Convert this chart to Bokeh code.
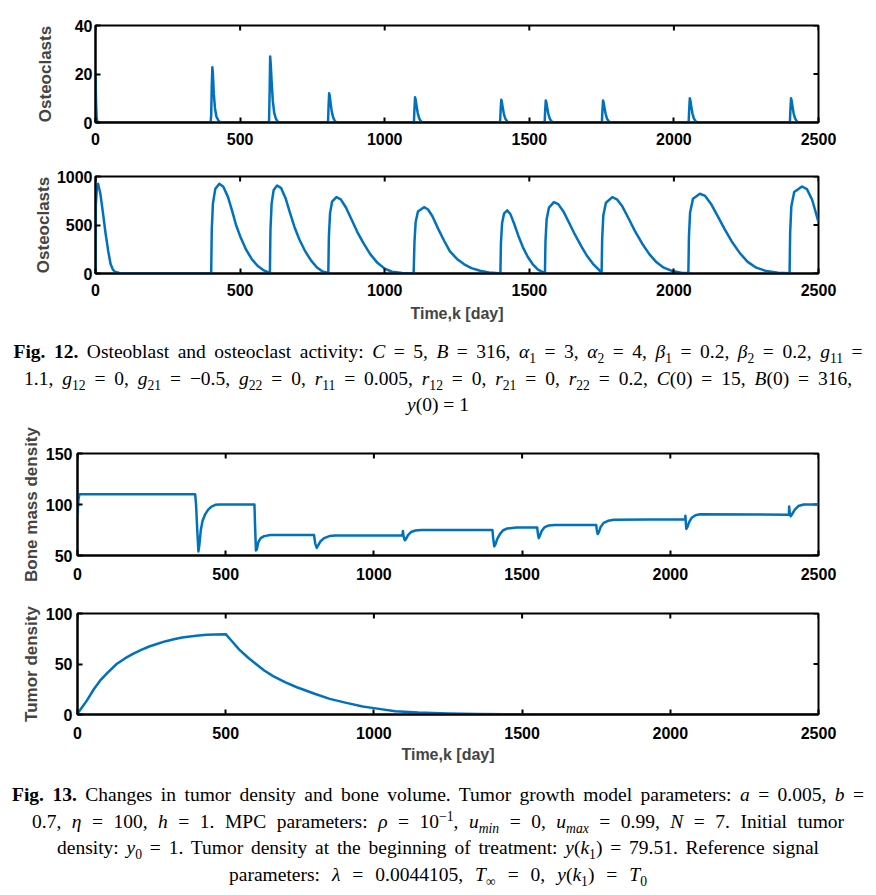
import math
from bokeh.plotting import figure
from bokeh.models import Range1d, FixedTicker, Div
from bokeh.layouts import column
from bokeh.embed import file_html
from bokeh.resources import INLINE

# ---------------- data ----------------
x_ticks = [0, 500, 1000, 1500, 2000, 2500]

# Fig.12 top: osteoclast spikes (0..40)
spike_days = [0, 2, 4, 8,
              398, 400, 402, 404, 406, 409, 413, 418, 425, 432,
              600, 602, 604, 606, 609, 613, 618, 624, 632,
              804, 806, 808, 810, 813, 817, 822, 828, 835,
              1101, 1103, 1105, 1107, 1110, 1114, 1119, 1125, 1132,
              1399, 1401, 1403, 1405, 1408, 1412, 1417, 1423, 1430,
              1553, 1555, 1557, 1559, 1562, 1566, 1571, 1577, 1584,
              1751, 1753, 1755, 1757, 1760, 1764, 1769, 1775, 1782,
              2051, 2053, 2055, 2057, 2060, 2064, 2069, 2075, 2082,
              2401, 2403, 2405, 2407, 2410, 2414, 2419, 2425, 2432,
              2500]
spike_vals = [19, 8, 1.5, 0,
              0, 3, 15, 22.8, 20, 12, 6, 2.5, 0.8, 0,
              0, 12, 27.2, 24, 17, 9, 4, 1.5, 0,
              0, 7, 12.1, 11, 8, 4.5, 2, 0.5, 0,
              0, 6, 10.4, 9.5, 7, 4, 1.8, 0.5, 0,
              0, 5.5, 9.4, 8.6, 6.3, 3.6, 1.6, 0.5, 0,
              0, 5.3, 9.1, 8.3, 6.1, 3.5, 1.5, 0.4, 0,
              0, 5.3, 9.1, 8.3, 6.1, 3.5, 1.5, 0.4, 0,
              0, 5.8, 10, 9.1, 6.7, 3.8, 1.7, 0.5, 0,
              0, 5.8, 10, 9.1, 6.7, 3.8, 1.7, 0.5, 0,
              0]
spike_yticks = [0, 20, 40]

# Fig.12 bottom: osteoclast pulses (0..1000)
osteo_days = [0, 1, 5, 9, 17, 26, 35, 44, 52, 60, 69, 85, 100,
              400, 402, 406, 414, 428, 442, 458, 472, 486, 502, 520, 540, 560, 580, 600,
              603, 605, 609, 616, 628, 642, 658, 672, 688, 705, 725, 745, 765, 785, 805,
              807, 811, 818, 833, 848, 866, 885, 905, 925, 950, 975, 1000, 1025, 1060, 1100,
              1103, 1107, 1115, 1136, 1150, 1165, 1185, 1205, 1225, 1250, 1275, 1300, 1330, 1360, 1395,
              1400, 1402, 1406, 1413, 1424, 1435, 1448, 1462, 1478, 1495, 1512, 1530, 1550,
              1554, 1556, 1560, 1568, 1585, 1600, 1618, 1638, 1658, 1680, 1700, 1720, 1740, 1750,
              1752, 1756, 1765, 1787, 1803, 1822, 1843, 1865, 1890, 1915, 1940, 1965, 1995, 2025, 2050,
              2052, 2056, 2066, 2090, 2108, 2128, 2150, 2175, 2200, 2228, 2255, 2285, 2320, 2360, 2400,
              2402, 2406, 2416, 2443, 2460, 2478, 2500]
osteo_vals = [0, 700, 900, 925, 820, 620, 410, 230, 100, 40, 15, 3, 0,
              0, 450, 720, 870, 925, 895, 790, 650, 500, 370, 250, 150, 80, 35, 10,
              0, 450, 720, 860, 907, 880, 770, 630, 480, 350, 230, 135, 65, 20, 5,
              380, 620, 740, 787, 765, 680, 560, 430, 320, 200, 110, 50, 18, 5, 0,
              330, 530, 640, 684, 660, 590, 460, 340, 230, 150, 95, 55, 28, 10, 2,
              0, 320, 520, 620, 650, 610, 510, 390, 270, 170, 95, 40, 10,
              0, 340, 560, 680, 735, 715, 640, 520, 400, 280, 180, 100, 40, 5,
              360, 600, 730, 787, 765, 690, 570, 440, 310, 200, 115, 60, 25, 8, 2,
              380, 630, 770, 822, 800, 720, 600, 460, 330, 210, 120, 60, 25, 8, 2,
              420, 690, 840, 897, 870, 760, 530]
osteo_yticks = [0, 500, 1000]

# Fig.13 top: bone mass density (50..150)
bone_days = [0, 3, 6, 397, 400, 404, 408, 411, 416, 422, 430, 441, 452, 465, 480, 597,
             599, 602, 605, 610, 618, 630, 650, 798, 802, 807, 812, 820, 832, 850, 870,
             1096, 1098, 1100, 1104, 1108, 1115, 1125, 1140, 1160, 1400, 1402, 1406, 1410,
             1416, 1425, 1435, 1450, 1480, 1551, 1553, 1556, 1560, 1566, 1575, 1590, 1610,
             1750, 1752, 1755, 1759, 1765, 1775, 1790, 1810, 2050, 2051, 2052, 2054, 2058,
             2064, 2072, 2085, 2100, 2400, 2401, 2403, 2406, 2412, 2420, 2432, 2450, 2500]
bone_vals = [90, 104, 110, 110, 100, 75, 54, 60, 75, 84, 90, 95, 98, 99.7, 100, 100,
             80, 55, 56, 63, 67, 69, 70, 70, 62, 57.5, 60, 64, 67, 69, 69.5,
             69.5, 74, 69, 65, 66, 70, 73, 74.5, 75, 75, 68, 59, 61,
             66, 71, 74.5, 76.5, 77.5, 77.5, 72, 67, 69.5, 74, 77.5, 79.5, 80,
             80, 75, 71, 73, 78, 82, 84, 85, 85.5, 89, 84, 76, 78,
             83, 87, 89.5, 90.5, 90, 98, 92, 88.5, 91, 95, 98.5, 100, 100]
bone_yticks = [50, 100, 150]

# Fig.13 bottom: tumor density (0..100)
tumor_days = [0, 10, 32, 55, 76, 100, 132, 160, 187, 215, 242, 270, 298, 325, 353, 380,
              408, 436, 464, 500, 519, 545, 574, 600, 630, 660, 700, 740, 800, 851, 900,
              962, 1000, 1072, 1150, 1250, 1350, 1450, 1600, 1800, 2000, 2500]
tumor_vals = [1, 5, 14, 25, 33.5, 41, 50, 55.5, 60, 64, 67.3, 70, 72.6, 74.5, 76.2, 77.3,
              78.3, 78.9, 79.3, 79.5, 73.3, 64.5, 56.7, 50.5, 43.6, 38, 32, 27, 20.5, 15.5, 12,
              7.9, 6.3, 3.3, 1.9, 1.0, 0.5, 0.25, 0.1, 0.03, 0, 0]
tumor_yticks = [0, 50, 100]

# ---------------- styling helpers ----------------
BLUE = "#0072BD"
TICK_FONT = "Liberation Sans"


def make_fig(fw, fh, top, bottom, y0, y1, yticks, ylabel, ylab_standoff,
             xlab_standoff, ytick_standoff, xlabel=None, xtitle_standoff=3):
    p = figure(frame_width=fw, frame_height=fh,
               x_range=Range1d(0, 2500), y_range=Range1d(y0, y1),
               output_backend="svg", toolbar_location=None,
               min_border_left=95, min_border_right=40,
               min_border_top=top, min_border_bottom=bottom)
    p.xgrid.visible = False
    p.ygrid.visible = False
    p.outline_line_color = "black"
    p.outline_line_width = 2
    p.outline_line_alpha = 1
    p.background_fill_color = "white"
    p.border_fill_color = "white"

    for ax, ticks, so in ((p.xaxis[0], x_ticks, xlab_standoff),
                          (p.yaxis[0], yticks, ytick_standoff)):
        ax.ticker = FixedTicker(ticks=ticks)
        ax.major_tick_in = 5
        ax.major_tick_out = 0
        ax.major_tick_line_width = 2
        ax.minor_tick_line_color = None
        ax.axis_line_width = 2
        ax.major_label_text_font = TICK_FONT
        ax.major_label_text_font_style = "bold"
        ax.major_label_text_font_size = "16px"
        ax.major_label_text_color = "black"
        ax.major_label_standoff = so

    p.yaxis[0].axis_label = ylabel
    p.yaxis[0].axis_label_text_font = TICK_FONT
    p.yaxis[0].axis_label_text_font_style = "bold"
    p.yaxis[0].axis_label_text_font_size = "17px"
    p.yaxis[0].axis_label_standoff = ylab_standoff

    if xlabel:
        p.xaxis[0].axis_label = xlabel
        p.xaxis[0].axis_label_text_font = TICK_FONT
        p.xaxis[0].axis_label_text_font_style = "bold"
        p.xaxis[0].axis_label_text_font_size = "16px"
        p.xaxis[0].axis_label_standoff = xtitle_standoff

    # inward ticks on the top and right edges of the box (clipped to the frame)
    p.scatter(x_ticks, [y1] * len(x_ticks), marker="dash", angle=math.pi / 2,
              size=10, line_color="black", line_width=2)
    p.scatter([2500] * len(yticks), yticks, marker="dash",
              size=10, line_color="black", line_width=2)
    return p


# Fig. 12 panels
p1 = make_fig(723, 97, 25, 28, 0, 40, spike_yticks, "Osteoclasts", 17, 10, 3)
p1.line(spike_days, spike_vals, line_color=BLUE, line_width=2.5, line_join="round")

p2 = make_fig(723, 97, 26, 49, 0, 1000, osteo_yticks, "Osteoclasts", 1, 10, 3,
              "Time,k [day]", 6)
p2.line(osteo_days, osteo_vals, line_color=BLUE, line_width=2.5, line_join="round")

# Fig. 13 panels (frame starts 18px further left)
p3 = make_fig(753, 102, 29, 43, 50, 150, bone_yticks, "Bone mass density", 2, 12, 5)
p3.line(bone_days, bone_vals, line_color=BLUE, line_width=2.5, line_join="round")

p4 = make_fig(753, 101, 15, 56, 0, 100, tumor_yticks, "Tumor density", 2, 12, 5,
              "Time,k [day]", 4)
p4.line(tumor_days, tumor_vals, line_color=BLUE, line_width=2.5, line_join="round")

for p in (p3, p4):
    p.styles = {"margin-left": "-18px"}

# ---------------- captions ----------------
def sb(s):
    return f'<sub style="font-size:70%;line-height:0">{s}</sub>'


def sp(s):
    return f'<sup style="font-size:70%;line-height:0">{s}</sup>'


def it(s):
    return f'<i>{s}</i>'


CAP = ("font-family:'Liberation Serif',serif;font-size:19.5px;line-height:26.5px;"
       "color:#000;width:876px;margin:0;")

cap1_lines = [
    (f"<b>Fig. 12.</b> Osteoblast and osteoclast activity: {it('C')} = 5, {it('B')} = 316, "
     f"{it('α')}{sb('1')} = 3, {it('α')}{sb('2')} = 4, {it('β')}{sb('1')} = 0.2, "
     f"{it('β')}{sb('2')} = 0.2, {it('g')}{sb('11')} =", 849),
    (f"1.1, {it('g')}{sb('12')} = 0, {it('g')}{sb('21')} = −0.5, {it('g')}{sb('22')} = 0, "
     f"{it('r')}{sb('11')} = 0.005, {it('r')}{sb('12')} = 0, {it('r')}{sb('21')} = 0, "
     f"{it('r')}{sb('22')} = 0.2, {it('C')}(0) = 15, {it('B')}(0) = 316,", 828),
    (f"{it('y')}(0) = 1", None),
]
cap2_lines = [
    (f"<b>Fig. 13.</b> Changes in tumor density and bone volume. Tumor growth model parameters: "
     f"{it('a')} = 0.005, {it('b')} =", 852),
    (f"0.7, {it('η')} = 100, {it('h')} = 1. MPC parameters: {it('ρ')} = 10{sp('−1')}, "
     f"{it('u')}{sb(it('min'))} = 0, {it('u')}{sb(it('max'))} = 0.99, {it('N')} = 7. Initial tumor", 812),
    (f"density: {it('y')}{sb('0')} = 1. Tumor density at the beginning of treatment: "
     f"{it('y')}({it('k')}{sb('1')}) = 79.51. Reference signal", 762),
    (f"parameters: {it('λ')} = 0.0044105, {it('T')}{sb('∞')} = 0, "
     f"{it('y')}({it('k')}{sb('1')}) = {it('T')}{sb('0')}", 418),
]


def caption_html(lines, pad):
    rows = []
    for html, w in lines:
        if w is None:
            rows.append(f'<div style="text-align:center;white-space:nowrap;">{html}</div>')
        else:
            rows.append(f'<div style="width:{w}px;margin:0 auto;text-align:justify;'
                        f'text-align-last:justify;height:26.5px;overflow:visible;">{html}</div>')
    return f'<div style="{CAP}padding-top:{pad}px;">' + "".join(rows) + "</div>"


div1 = Div(text=caption_html(cap1_lines, 15), width=876, height=100, margin=0)
div2 = Div(text=caption_html(cap2_lines, 12), width=876, height=122, margin=0)

layout = column(p1, p2, div1, p3, p4, div2, spacing=0)

open("out.html", "w").write(file_html(layout, INLINE))
